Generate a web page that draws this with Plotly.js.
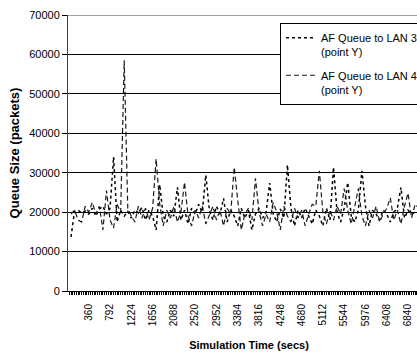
<!DOCTYPE html>
<html>
<head>
<meta charset="utf-8">
<script src="https://cdn.plot.ly/plotly-3.0.1.min.js"></script>
<style>
html,body{margin:0;padding:0;overflow:hidden;background:#fff;}
#chart{width:440px;height:354px;}
</style>
</head>
<body>
<div id="chart"></div>
<script>
// Simulation time (secs), one sample every 72 s
const timeStep = 72;
// AF Queue to LAN 3 (point Y) — dotted
const lan3 = [13700,20200,20500,19800,20300,19500,21000,19000,20800,21500,
  19500,21000,34000,17500,20500,19000,20200,18500,20500,19800,
  21200,18000,20500,19000,15500,27000,19000,17500,20500,19000,
  26300,18000,20500,17000,21000,19500,22000,20000,29400,20500,
  18000,21500,19500,23500,17500,20500,19000,16500,21000,18500,
  20500,15500,19500,21000,18500,20000,27400,19500,17500,20800,
  18500,32000,21000,16500,20500,18500,21000,19000,17000,20500,
  19000,16500,21000,18000,31400,20000,17500,21000,27500,19000,
  17500,20500,30500,21500,16500,20500,19500,18000,20500,19500,
  17500,20000,21000,26300,18500,20500,19500,20000,19500];
// AF Queue to LAN 4 (point Y) — dashed
const lan4 = [19500,20500,18000,17500,21500,20000,22500,19500,21500,15500,
  25500,18000,16000,22000,20000,58500,21000,19000,17500,21500,
  18500,21000,18000,21000,33500,22000,16500,20500,18500,21500,
  17500,20000,27600,19000,16500,20500,18500,21500,17000,19500,
  21500,18000,20500,16500,21000,19500,31400,23000,15500,19500,
  21000,18000,28600,20000,16500,19500,17500,22500,20000,15500,
  21500,19000,17500,21000,18500,20500,16500,19500,22000,21500,
  30500,20000,17000,20500,18000,21500,19500,26000,20500,17000,
  21500,26000,19000,16500,20500,18500,21500,17500,19500,21000,
  23600,18000,20500,17000,21500,24800,18500,22000,21000];
const times = lan3.map((_, i) => i * timeStep);
const xTickLabels = ['360','792','1224','1656','2088','2520','2952','3384','3816','4248','4680','5112','5544','5976','6408','6840'];
const yTickLabels = ['0','10000','20000','30000','40000','50000','60000','70000'];
const seriesNames = ['AF Queue to LAN 3<br>(point Y)', 'AF Queue to LAN 4<br>(point Y)'];

const traces = [
  {x: times, y: lan3, type: 'scatter', mode: 'lines', name: seriesNames[0], legendgroup: 'a',
   line: {color: '#000', width: 1.5, dash: 'dot'}},
  {x: times, y: lan4, type: 'scatter', mode: 'lines', name: seriesNames[1], legendgroup: 'b',
   line: {color: '#1a1a1a', width: 1.2, dash: '5px,3px'}}
];

const font = {family: '"Liberation Sans", Arial, sans-serif', color: '#000'};
const layout = {
  width: 440, height: 354,
  margin: {l: 68, r: 10, t: 15, b: 63},
  paper_bgcolor: '#fff', plot_bgcolor: '#fff',
  font: Object.assign({size: 11}, font),
  showlegend: true,
  legend: {
    x: 0.5856, y: 0.971, xanchor: 'left', yanchor: 'top',
    bgcolor: '#fff', bordercolor: '#000', borderwidth: 1,
    font: Object.assign({size: 11}, font),
    valign: 'top', traceorder: 'grouped', tracegroupgap: 6
  },
  xaxis: {
    range: [-61, 7286],
    tickmode: 'array', tickvals: xTickLabels.map(Number), ticktext: xTickLabels,
    tickangle: -90, tickfont: Object.assign({size: 10}, font),
    ticks: 'outside', ticklen: 3, tickcolor: '#000', tickwidth: 1,
    ticklabelstandoff: 5,
    minor: {ticks: 'outside', ticklen: 3, tickcolor: '#000', dtick: 36, tick0: 0, showgrid: false},
    showline: true, linecolor: '#000', linewidth: 1,
    showgrid: false, zeroline: false,
    title: {text: '<b>Simulation Time (secs)</b>', font: Object.assign({size: 11}, font), standoff: 16}
  },
  yaxis: {
    range: [0, 70000],
    tickmode: 'array', tickvals: yTickLabels.map(Number), ticktext: yTickLabels,
    tickfont: Object.assign({size: 11}, font),
    ticks: 'outside', ticklen: 5, tickcolor: '#000',
    showline: true, linecolor: '#404040', linewidth: 1,
    showgrid: true, gridcolor: '#000', gridwidth: 1, zeroline: false,
    title: {text: '<b>Queue Size (packets)</b>', font: Object.assign({size: 13}, font), standoff: 6}
  },
  shapes: [
    {type: 'line', xref: 'paper', yref: 'y', x0: 0, x1: 1, y0: 70000, y1: 70000,
     line: {color: '#808080', width: 1.5}}
  ]
};
Plotly.newPlot('chart', traces, layout, {displayModeBar: false, staticPlot: true});
</script>
</body>
</html>
